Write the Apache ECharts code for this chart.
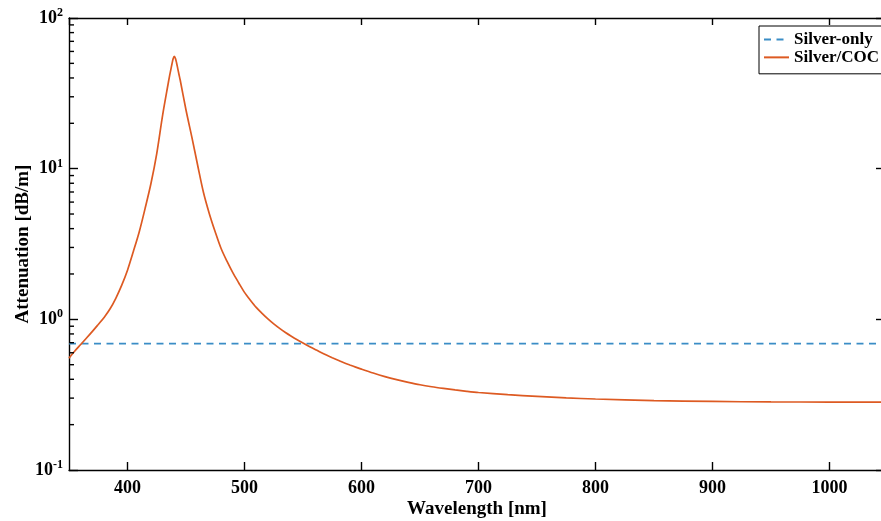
<!DOCTYPE html>
<html>
<head>
    <title>Attenuation vs wavelength</title>
    <script src="https://cdn.jsdelivr.net/npm/echarts@6/dist/echarts.min.js"></script>
</head>
<body style="margin:0">
    <div id="chart" style="width: 881px; height: 521px;"></div>
    <script>
        // wavelength [nm] and attenuation [dB/m]
        var wavelength = [350, 355, 360, 365, 370, 375, 380, 385, 390, 395, 400, 405, 410, 415, 420, 425,
          430, 435, 436, 437, 438, 439, 440, 441, 442, 443, 444, 445, 450, 455, 460, 465, 470, 475, 480, 485, 490, 495, 500, 505,
          510, 515, 520, 525, 530, 535, 540, 545, 550, 555, 560, 565, 570, 575, 580, 585, 590, 595,
          600, 610, 620, 630, 640, 650, 660, 670, 680, 690, 700, 725, 750, 775, 800, 850, 900, 950, 1000, 1050];
        var silverCoc = [0.553, 0.617, 0.681, 0.752, 0.832, 0.925, 1.03, 1.17, 1.38, 1.68, 2.12, 2.82, 3.80, 5.43, 7.94, 12.6,
          22.6, 37.6, 41.5, 45.3, 49.5, 53.7, 55.6, 53.9, 50.1, 46.0, 42.2, 38.9, 24.5, 16.2, 10.5, 6.92, 5.01, 3.80, 2.95, 2.43, 2.04, 1.75, 1.51, 1.34,
          1.20, 1.096, 1.007, 0.933, 0.871, 0.818, 0.773, 0.733, 0.697, 0.664, 0.634, 0.605, 0.579, 0.556, 0.535, 0.515, 0.498, 0.482,
          0.467, 0.440, 0.417, 0.398, 0.382, 0.368, 0.357, 0.348, 0.340, 0.333, 0.327, 0.316, 0.308, 0.301, 0.296, 0.289, 0.285, 0.283, 0.2825, 0.2825];
        var silverOnlyLevel = 0.69;

        // minor tick values on the log axis
        var minorTicks = [0.2, 0.3, 0.4, 0.5, 0.6, 0.7, 0.8, 0.9, 2, 3, 4, 5, 6, 7, 8, 9,
          20, 30, 40, 50, 60, 70, 80, 90];

        var xTitle = 'Wavelength [nm]';
        var yTitle = 'Attenuation [dB/m]';

        var X_MIN = 350, X_MAX = 1050;
        var FONT = 'Liberation Serif';

        var silverOnly = [[X_MIN, silverOnlyLevel], [X_MAX, silverOnlyLevel]];
        var cocData = wavelength.map(function (w, i) { return [w, silverCoc[i]]; });

        function powLabel(v) {
          var e = Math.round(Math.log10(v));
          return '{b|10}{s|' + e + '}';
        }

        var axisRich = {
          b: { fontFamily: FONT, fontWeight: 'bold', fontSize: 18, color: '#000' },
          s: { fontFamily: FONT, fontWeight: 'bold', fontSize: 12, color: '#000',
               verticalAlign: 'bottom', padding: [0, 0, 10, 0] }
        };
        var titleStyle = { fontFamily: FONT, fontWeight: 'bold', fontSize: 19, fill: '#000',
                           textAlign: 'center', textVerticalAlign: 'middle' };

        var chart = echarts.init(document.getElementById('chart'));
        var option = {
          backgroundColor: '#fff',
          animation: false,
          grid: { left: 69, right: -7, top: 18, bottom: 51, containLabel: false, outerBoundsMode: 'none' },
          // axis titles (the axis "name" gets pushed away from the labels, so placed by hand)
          graphic: [{
            type: 'text',
            x: 477, y: 509,
            style: Object.assign({ text: xTitle }, titleStyle)
          }, {
            type: 'text',
            x: 23, y: 244,
            rotation: Math.PI / 2,
            style: Object.assign({ text: yTitle }, titleStyle)
          }],
          legend: {
            data: ['Silver-only', 'Silver/COC'],
            orient: 'vertical',
            left: 759,
            top: 26,
            itemWidth: 25,
            itemHeight: 12,
            itemGap: -9,
            padding: [0, 6, 3, 4],
            borderColor: '#000',
            borderWidth: 1,
            backgroundColor: '#fff',
            itemStyle: { opacity: 0 },
            textStyle: { fontFamily: FONT, fontWeight: 'bold', fontSize: 17, color: '#000' }
          },
          xAxis: [{
            type: 'value',
            min: X_MIN,
            max: X_MAX,
            splitNumber: 7,
            axisLine: { lineStyle: { color: '#000', width: 1.4 } },
            axisTick: { inside: true, length: 8, lineStyle: { color: '#000', width: 1.4 } },
            axisLabel: { fontFamily: FONT, fontWeight: 'bold', fontSize: 18, color: '#000', margin: 4,
                         showMinLabel: false, showMaxLabel: false,
                         formatter: function (v) { return String(v); } },
            splitLine: { show: false }
          }, {
            type: 'value',
            position: 'top',
            min: X_MIN,
            max: X_MAX,
            splitNumber: 7,
            axisLine: { lineStyle: { color: '#000', width: 1.4 } },
            axisTick: { inside: true, length: 7, lineStyle: { color: '#000', width: 1.4 } },
            axisLabel: { show: false },
            splitLine: { show: false }
          }],
          yAxis: [{
            type: 'log',
            logBase: 10,
            min: 0.1,
            max: 100,
            axisLine: { show: true, lineStyle: { color: '#000', width: 1.4 } },
            axisTick: { show: true, inside: true, length: 9, lineStyle: { color: '#000', width: 1.4 } },
            axisLabel: { margin: 6, formatter: powLabel, rich: axisRich },
            splitLine: { show: false }
          }, {
            type: 'log',
            logBase: 10,
            min: 0.1,
            max: 100,
            position: 'right',
            axisLine: { show: true, lineStyle: { color: '#000', width: 1.4 } },
            axisTick: { show: true, inside: true, length: 12, lineStyle: { color: '#000', width: 1.4 } },
            axisLabel: { show: false },
            splitLine: { show: false }
          }],
          series: [{
            name: 'Silver-only',
            type: 'line',
            data: silverOnly,
            symbol: 'none',
            color: '#3a8dc6',
            lineStyle: { color: '#3a8dc6', width: 1.6, type: [7, 5.5] }
          }, {
            name: 'Silver/COC',
            type: 'line',
            data: cocData,
            symbol: 'none',
            smooth: 0.3,
            color: '#dd5a22',
            lineStyle: { color: '#dd5a22', width: 1.7 }
          }, {
            // short minor ticks along the left log axis
            type: 'custom',
            silent: true,
            clip: false,
            z: 5,
            data: minorTicks.map(function (v) { return [X_MIN, v]; }),
            renderItem: function (params, api) {
              var p = api.coord([X_MIN, api.value(1)]);
              return {
                type: 'line',
                shape: { x1: p[0], y1: p[1], x2: p[0] + 5, y2: p[1] },
                style: { stroke: '#000', lineWidth: 1.4 }
              };
            }
          }]
        };
        chart.setOption(option);
    </script>
</body>
</html>
